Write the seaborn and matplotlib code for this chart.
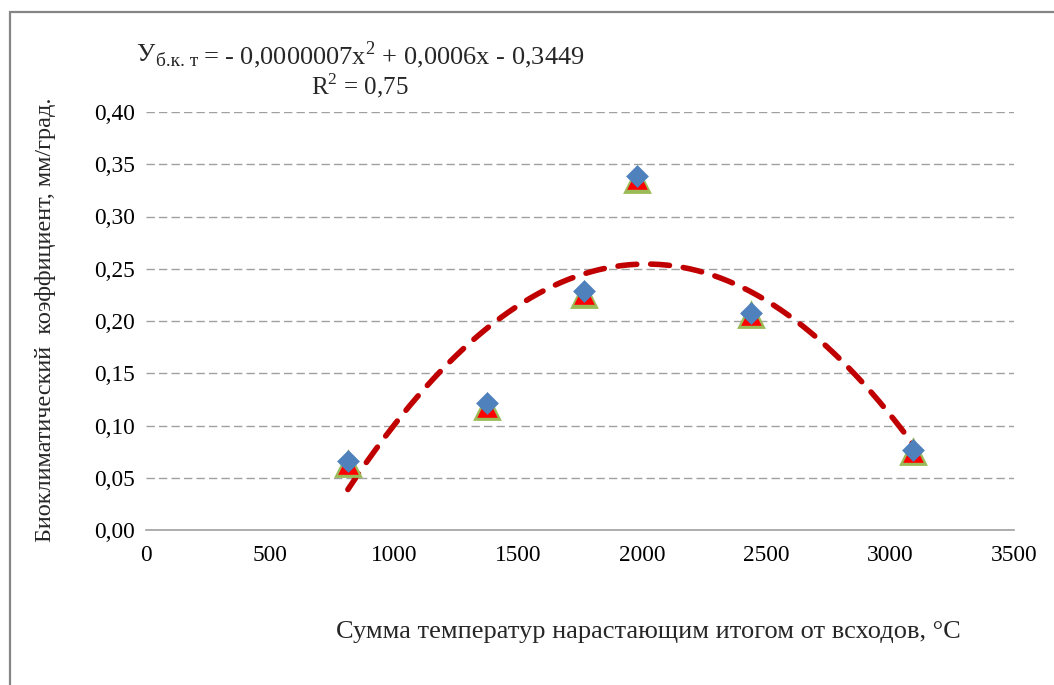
import numpy as np
import pandas as pd
import seaborn as sns
import matplotlib
matplotlib.use("Agg")
import matplotlib.pyplot as plt
from matplotlib.ticker import FuncFormatter
from matplotlib.patches import Rectangle

# ---- data ----
temp_sum = [814, 1375, 1766, 1980, 2440, 3093]
coef_blue = [0.066, 0.122, 0.229, 0.339, 0.208, 0.077]
coef_red = [0.063, 0.118, 0.226, 0.336, 0.206, 0.075]
coef_green = [0.064, 0.119, 0.226, 0.336, 0.207, 0.076]
x_ticks = [0, 500, 1000, 1500, 2000, 2500, 3000, 3500]
y_ticks = [0.00, 0.05, 0.10, 0.15, 0.20, 0.25, 0.30, 0.35, 0.40]

x_label = "Сумма температур нарастающим итогом от всходов, °С"
y_label = "Биоклиматический  коэффициент, мм/град."
eq_main = "= - 0,0000007x$^{2}$ + 0,0006x - 0,3449"
r2_text = "R$^{2}$ = 0,75"

sns.set_theme(style="white")
plt.rcParams['font.family'] = ['Liberation Serif', 'DejaVu Serif']
plt.rcParams['mathtext.fontset'] = 'custom'
plt.rcParams['mathtext.rm'] = 'Liberation Serif'

fig = plt.figure(figsize=(10.54, 6.85), dpi=100)
ax = fig.add_axes([146/1054, 1 - 530/685, (1014-146)/1054, (530-112)/685])

df = pd.DataFrame({"x": temp_sum, "g": coef_green, "r": coef_red, "b": coef_blue})

# trend line (2nd order polynomial fit)
coefs = np.polyfit(df["x"], df["b"], 2)
xs = np.linspace(min(temp_sum), max(temp_sum), 300)
ys = np.polyval(coefs, xs)
ax.plot(xs, ys, color="#C00000", lw=4.0, linestyle=(0, (3.4, 2.5)),
        dash_capstyle="round", zorder=2)

sns.scatterplot(data=df, x="x", y="g", marker="^", s=430, color="#9BBB59",
                edgecolor="#9BBB59", linewidth=0, ax=ax, zorder=3, legend=False)
sns.scatterplot(data=df, x="x", y="r", marker="^", s=220, color="#FF0000",
                edgecolor="#FF0000", linewidth=0, ax=ax, zorder=4, legend=False)
sns.scatterplot(data=df, x="x", y="b", marker="D", s=135, color="#4F81BD",
                edgecolor="#4F81BD", linewidth=0, ax=ax, zorder=5, legend=False)

ax.set_xlim(0, 3500)
ax.set_ylim(0, 0.40)
ax.set_xticks(x_ticks)
ax.set_yticks(y_ticks)
ax.xaxis.set_major_formatter(FuncFormatter(lambda v, p: f"{v:.0f}"))
ax.yaxis.set_major_formatter(FuncFormatter(lambda v, p: f"{v:.2f}".replace(".", ",")))
ax.tick_params(axis="both", labelsize=16.8, colors="black", length=0, pad=8)
ax.tick_params(axis="x", length=6, direction="out", color="#A0A0A0", width=1.2, pad=5)
ax.set_xlabel("")
ax.set_ylabel("")

for v in y_ticks[1:]:
    ax.axhline(v, color="#A0A0A0", lw=1.0, linestyle=(0, (6, 3)), zorder=1)

for side in ["top", "right", "left"]:
    ax.spines[side].set_visible(False)
ax.spines["bottom"].set_color("#A0A0A0")
ax.spines["bottom"].set_linewidth(1.2)

fig.text(648/1054, 1 - 632/685, x_label, fontsize=19, ha="center", va="center")
fig.text(46/1054, 1 - 320/685, y_label, fontsize=17.5, ha="center", va="center",
         rotation=90)

# equation
fig.text(136/1054, 1 - 55/685, "У", fontsize=18.5, ha="left", va="center")
fig.text(156/1054, 1 - 61/685, "б.к. т", fontsize=14, ha="left", va="center")
fig.text(203/1054, 1 - 55/685, eq_main, fontsize=19, ha="left", va="center")
fig.text(311/1054, 1 - 86/685, r2_text, fontsize=18, ha="left", va="center")

# outer frame (top and left visible)
fig.patches.append(Rectangle((10/1054, -0.1), 1.2, 1.1 - 12/685,
                             transform=fig.transFigure, fill=False,
                             edgecolor="#868686", lw=1.6, clip_on=False))

fig.savefig("out.png", dpi=100)
